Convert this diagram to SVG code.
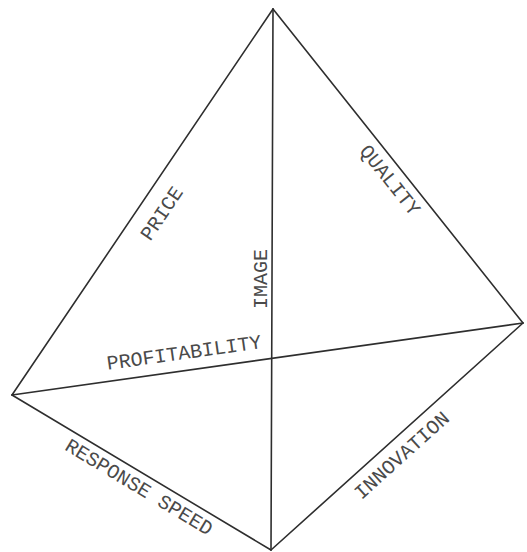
<svg xmlns="http://www.w3.org/2000/svg" width="527" height="552" viewBox="0 0 527 552">
<style>
.edge{stroke:#2e2e2e;stroke-width:1.6;fill:none;stroke-linecap:round}
.lbl{font-family:"Liberation Mono","Courier New",monospace;font-size:20px;fill:#4a4a4a;text-anchor:middle}
</style>
<rect width="527" height="552" fill="#ffffff"/>
<g id="connectors">
<line class="edge" x1="273" y1="9" x2="12" y2="395"/>
<line class="edge" x1="273" y1="9" x2="523" y2="323"/>
<line class="edge" x1="273" y1="9" x2="271" y2="550"/>
<line class="edge" x1="12" y1="395" x2="523" y2="323"/>
<line class="edge" x1="12" y1="395" x2="271" y2="550"/>
<line class="edge" x1="271" y1="550" x2="523" y2="323"/>
</g>
<g id="price"><text class="lbl" transform="translate(167,217) rotate(-56)">PRICE</text></g>
<g id="quality"><text class="lbl" transform="translate(385,184) rotate(51.5)">QUALITY</text></g>
<g id="image"><text class="lbl" transform="translate(266.5,279) rotate(-90)">IMAGE</text></g>
<g id="profitability"><text class="lbl" transform="translate(185,359) rotate(-8)">PROFITABILITY</text></g>
<g id="response-speed"><text class="lbl" transform="translate(135.7,492.6) rotate(31)">RESPONSE SPEED</text></g>
<g id="innovation"><text class="lbl" transform="translate(406,460) rotate(-42)">INNOVATION</text></g>
</svg>
